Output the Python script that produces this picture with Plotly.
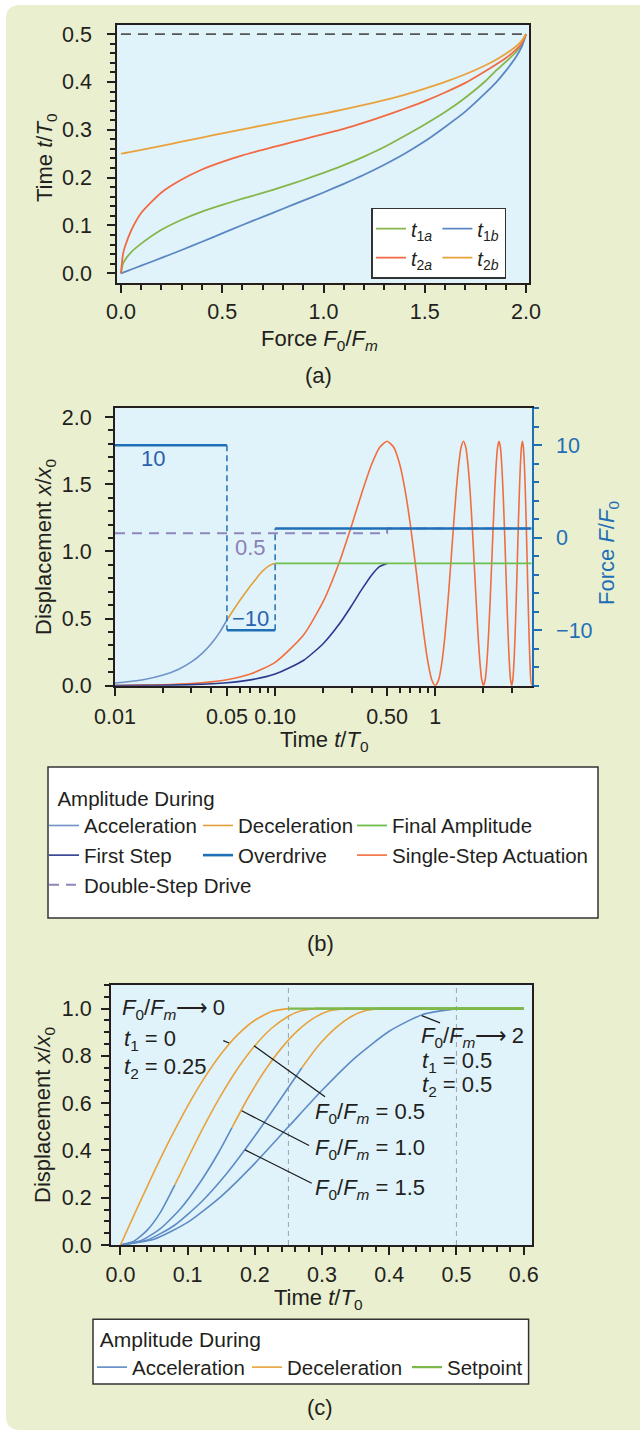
import plotly.graph_objects as go

# ======================= DATA =======================
# ---- panel (a): switching times vs force ratio ----
force_ratio = [0, 0.01, 0.02, 0.05, 0.1, 0.2, 0.3, 0.4, 0.5, 0.6, 0.7, 0.8, 0.9, 1.0,
               1.1, 1.2, 1.3, 1.4, 1.5, 1.6, 1.7, 1.8, 1.85, 1.9, 1.95, 1.98, 2.0]
t1a = [0, 0.02, 0.028, 0.044, 0.062, 0.091, 0.112, 0.129, 0.143, 0.156, 0.168, 0.181, 0.195, 0.21,
       0.226, 0.244, 0.264, 0.287, 0.311, 0.337, 0.367, 0.402, 0.423, 0.442, 0.462, 0.479, 0.5]
t1b = [0, 0.0016, 0.0032, 0.008, 0.016, 0.0322, 0.0487, 0.066, 0.0835, 0.101, 0.118, 0.135, 0.152, 0.169,
       0.187, 0.206, 0.227, 0.25, 0.276, 0.306, 0.338, 0.377, 0.398, 0.423, 0.452, 0.475, 0.5]
t2a = [0, 0.04, 0.056, 0.089, 0.126, 0.169, 0.196, 0.217, 0.233, 0.2465, 0.258, 0.269, 0.28, 0.291,
       0.302, 0.315, 0.329, 0.344, 0.36, 0.378, 0.398, 0.423, 0.436, 0.45, 0.467, 0.482, 0.5]
t2b = [0.25, 0.2508, 0.2515, 0.254, 0.258, 0.2665, 0.275, 0.2838, 0.2925, 0.301, 0.3093, 0.3175, 0.3258, 0.334,
       0.3425, 0.352, 0.362, 0.373, 0.386, 0.4, 0.416, 0.435, 0.446, 0.459, 0.474, 0.487, 0.5]
limit_force = [0.0, 2.0]
limit_time = [0.5, 0.5]

# ---- panel (b): displacement (left axis) and force (right axis) vs time ----
acc_t = [0.01, 0.015, 0.02, 0.025, 0.03, 0.035, 0.04, 0.045, 0.05]
acc_x = [0.0197, 0.0444, 0.0789, 0.1231, 0.1771, 0.2408, 0.3142, 0.397, 0.489]
dec_t = [0.05, 0.055, 0.06, 0.065, 0.07, 0.075, 0.08, 0.085, 0.09, 0.095, 0.1]
dec_x = [0.489, 0.565, 0.632, 0.69, 0.742, 0.787, 0.83, 0.862, 0.887, 0.903, 0.91]
final_t = [0.1, 4.0]
final_x = [0.91, 0.91]
first_t = [0.01, 0.02, 0.03, 0.05, 0.07, 0.1, 0.15, 0.2, 0.25, 0.3, 0.35, 0.4, 0.45, 0.5]
first_x = [0.0009, 0.0036, 0.0081, 0.0223, 0.0433, 0.0869, 0.1876, 0.3144, 0.455, 0.5956,
           0.7224, 0.8231, 0.8877, 0.91]
single_t = [0.01, 0.015, 0.02, 0.03, 0.04, 0.05, 0.07, 0.1, 0.15,
            0.2, 0.25, 0.3, 0.35, 0.4, 0.45, 0.5, 0.55, 0.6, 0.65, 0.7, 0.75, 0.8, 0.85, 0.9, 0.95, 1.0,
            1.05, 1.1, 1.15, 1.2, 1.25, 1.3, 1.35, 1.4, 1.45, 1.5, 1.55, 1.6, 1.65, 1.7, 1.75, 1.8, 1.85, 1.9, 1.95, 2.0,
            2.05, 2.1, 2.15, 2.2, 2.25, 2.3, 2.35, 2.4, 2.45, 2.5, 2.55, 2.6, 2.65, 2.7, 2.75, 2.8, 2.85, 2.9, 2.95, 3.0,
            3.05, 3.1, 3.15, 3.2, 3.25, 3.3, 3.35, 3.4, 3.45, 3.5, 3.55, 3.6, 3.65, 3.7, 3.75, 3.8, 3.85, 3.9, 3.95, 4.0]
single_x = [0.0018, 0.004, 0.0072, 0.0161, 0.0286, 0.0445, 0.0866, 0.1738, 0.3751,
            0.6288, 0.91, 1.1912, 1.4449, 1.6462, 1.7755, 1.82, 1.7755, 1.6462, 1.4449, 1.1912, 0.91, 0.6288, 0.3751, 0.1738, 0.0445, 0.0,
            0.0445, 0.1738, 0.3751, 0.6288, 0.91, 1.1912, 1.4449, 1.6462, 1.7755, 1.82, 1.7755, 1.6462, 1.4449, 1.1912, 0.91, 0.6288, 0.3751, 0.1738, 0.0445, 0.0,
            0.0445, 0.1738, 0.3751, 0.6288, 0.91, 1.1912, 1.4449, 1.6462, 1.7755, 1.82, 1.7755, 1.6462, 1.4449, 1.1912, 0.91, 0.6288, 0.3751, 0.1738, 0.0445, 0.0,
            0.0445, 0.1738, 0.3751, 0.6288, 0.91, 1.1912, 1.4449, 1.6462, 1.7755, 1.82, 1.7755, 1.6462, 1.4449, 1.1912, 0.91, 0.6288, 0.3751, 0.1738, 0.0445, 0.0]
over_t = [0.01, 0.05, 0.05, 0.1, 0.1, 4.0]
over_f = [10, 10, -10, -10, 1, 1]
double_t = [0.01, 0.5, 0.5, 4.0]
double_f = [0.5, 0.5, 1, 1]
b_tick_vals = [0.01, 0.05, 0.1, 0.5, 1]
b_tick_text = ["0.01", "0.05", "0.10", "0.50", "1"]
b_minor_vals = [0.02, 0.03, 0.04, 0.06, 0.07, 0.08, 0.09, 0.2, 0.3, 0.4, 0.6, 0.7, 0.8, 0.9, 2, 3]

# ---- panel (c): displacement vs time for several force ratios ----
c0_dec_t = [0, 0.025, 0.05, 0.075, 0.1, 0.125, 0.15, 0.175, 0.2, 0.225, 0.25]
c0_dec_x = [0, 0.156, 0.309, 0.454, 0.588, 0.707, 0.809, 0.891, 0.951, 0.988, 1.0]
c05_acc_t = [0, 0.02, 0.04, 0.06, 0.081]
c05_acc_x = [0, 0.0158, 0.0628, 0.140, 0.254]
c05_dec_t = [0.081, 0.1, 0.125, 0.15, 0.175, 0.2, 0.225, 0.25, 0.27, 0.29]
c05_dec_x = [0.254, 0.365, 0.506, 0.635, 0.749, 0.843, 0.917, 0.968, 0.992, 1.0]
c10_acc_t = [0, 0.03, 0.06, 0.09, 0.12, 0.145, 0.166]
c10_acc_x = [0, 0.0177, 0.0702, 0.1557, 0.271, 0.386, 0.497]
c10_dec_t = [0.166, 0.19, 0.215, 0.24, 0.265, 0.29, 0.31, 0.333]
c10_dec_x = [0.497, 0.623, 0.738, 0.834, 0.91, 0.964, 0.99, 1.0]
c15_acc_t = [0, 0.04, 0.08, 0.12, 0.16, 0.2, 0.235, 0.27]
c15_acc_x = [0, 0.021, 0.0825, 0.181, 0.309, 0.461, 0.604, 0.75]
c15_dec_t = [0.27, 0.295, 0.32, 0.345, 0.365, 0.385]
c15_dec_x = [0.75, 0.845, 0.918, 0.969, 0.992, 1.0]
c2_acc_t = [0, 0.05, 0.1, 0.15, 0.2, 0.25, 0.3, 0.35, 0.4, 0.45, 0.5]
c2_acc_x = [0, 0.0245, 0.0955, 0.2061, 0.3455, 0.5, 0.6545, 0.794, 0.9045, 0.9755, 1.0]
setpoint_start = [0.25, 0.29, 0.333, 0.385, 0.5]
setpoint_end = 0.6
setpoint_level = 1.0
ref_times = [0.25, 0.5]

# ======================= STYLE / LAYOUT HELPERS =======================
FONT = "Liberation Sans, Arial, Helvetica, sans-serif"
TXT = "#231f20"
C_BG = "#e9efcf"
C_PLOT = "#e0f3fb"
C_FORCE = "#1f6fb6"
W, H = 640, 1432
ML, MR = 40, 30
GW = W - ML - MR


def px_x(p):
    return (p - ML) / GW


def px_y(p):
    return 1 - p / H


def ln(color, width=1.6, dash=None, spline=True):
    d = dict(color=color, width=width)
    if spline:
        d.update(shape="spline", smoothing=0.6)
    if dash:
        d["dash"] = dash
    return d


def join(segs):
    xs, ys = [], []
    for sx, sy in segs:
        if xs:
            xs.append(None)
            ys.append(None)
        xs += list(sx)
        ys += list(sy)
    return xs, ys


fig = go.Figure()

# ======================= (a) =======================
for name, ys, col, grp in [
    ("<i>t</i><sub>1<i>a</i></sub>", t1a, "#86b64a", "g1"),
    ("<i>t</i><sub>1<i>b</i></sub>", t1b, "#5b87c3", "g2"),
    ("<i>t</i><sub>2<i>a</i></sub>", t2a, "#f26a43", "g1"),
    ("<i>t</i><sub>2<i>b</i></sub>", t2b, "#e9a23b", "g2"),
]:
    fig.add_trace(go.Scatter(x=force_ratio, y=ys, mode="lines", name=name, line=ln(col, 1.8),
                             legend="legend", legendgroup=grp, xaxis="x", yaxis="y"))
fig.add_trace(go.Scatter(x=limit_force, y=limit_time, mode="lines", showlegend=False,
                         line=dict(color="#555555", width=1.6, dash="10px,7px"), xaxis="x", yaxis="y"))

# ======================= (b) =======================
EW = 109
fig.add_trace(go.Scatter(x=single_t, y=single_x, mode="lines", name="Single-Step Actuation",
                         line=ln("#f26d3d", 1.6), legend="legend2", legendrank=6, legendgroup="c3",
                         xaxis="x2", yaxis="y2"))
fig.add_trace(go.Scatter(x=first_t, y=first_x, mode="lines", name="First Step",
                         line=ln("#2b3a8f", 1.6), legend="legend2", legendrank=4, legendgroup="c1",
                         legendwidth=EW, xaxis="x2", yaxis="y2"))
fig.add_trace(go.Scatter(x=final_t, y=final_x, mode="lines", name="Final Amplitude",
                         line=ln("#6fbf4c", 1.8, spline=False), legend="legend2", legendrank=3, legendgroup="c3",
                         xaxis="x2", yaxis="y2"))
fig.add_trace(go.Scatter(x=acc_t, y=acc_x, mode="lines", name="Acceleration",
                         line=ln("#6f93c8", 1.6), legend="legend2", legendrank=1, legendgroup="c1",
                         legendwidth=EW, xaxis="x2", yaxis="y2"))
fig.add_trace(go.Scatter(x=dec_t, y=dec_x, mode="lines", name="Deceleration",
                         line=ln("#e3a03a", 1.6), legend="legend2", legendrank=2, legendgroup="c2",
                         legendwidth=EW, xaxis="x2", yaxis="y2"))
fig.add_trace(go.Scatter(x=double_t, y=double_f, mode="lines", name="Double-Step Drive",
                         line=dict(color="#8f86ba", width=2, dash="10px,7px"), legend="legend2", legendrank=7,
                         legendgroup="c1", legendwidth=EW, xaxis="x2", yaxis="y3"))
ov_vx, ov_vy = join([(over_t[i:i + 2], over_f[i:i + 2]) for i in (1, 3)])
fig.add_trace(go.Scatter(x=ov_vx, y=ov_vy, mode="lines", showlegend=False,
                         line=dict(color=C_FORCE, width=1.5, dash="6px,4px"), xaxis="x2", yaxis="y3"))
ov_hx, ov_hy = join([(over_t[i:i + 2], over_f[i:i + 2]) for i in (0, 2, 4)])
fig.add_trace(go.Scatter(x=ov_hx, y=ov_hy, mode="lines", name="Overdrive",
                         line=dict(color=C_FORCE, width=2.6), legend="legend2", legendrank=5, legendgroup="c2",
                         legendwidth=EW, xaxis="x2", yaxis="y3"))

# ======================= (c) =======================
cax, cay = join([(c05_acc_t, c05_acc_x), (c10_acc_t, c10_acc_x), (c15_acc_t, c15_acc_x), (c2_acc_t, c2_acc_x)])
cdx, cdy = join([(c0_dec_t, c0_dec_x), (c05_dec_t, c05_dec_x), (c10_dec_t, c10_dec_x), (c15_dec_t, c15_dec_x)])
csx, csy = join([([s, setpoint_end], [setpoint_level, setpoint_level]) for s in setpoint_start])
fig.add_trace(go.Scatter(x=cax, y=cay, mode="lines", name="Acceleration", line=ln("#5d8bc6", 1.6),
                         legend="legend3", legendwidth=110, xaxis="x3", yaxis="y4"))
fig.add_trace(go.Scatter(x=cdx, y=cdy, mode="lines", name="Deceleration", line=ln("#e9a23b", 1.6),
                         legend="legend3", legendwidth=115, xaxis="x3", yaxis="y4"))
fig.add_trace(go.Scatter(x=csx, y=csy, mode="lines", name="Setpoint", line=ln("#7db84a", 2.2, spline=False),
                         legend="legend3", legendwidth=78, xaxis="x3", yaxis="y4"))

# ======================= AXES =======================
tickfont = dict(family=FONT, size=21.5, color=TXT)


def base(color=TXT):
    return dict(showgrid=False, zeroline=False, ticks="outside", ticklen=8, tickwidth=2, tickcolor=color,
                showline=True, linecolor=color, linewidth=2.2, tickfont=dict(tickfont, color=color))


def minor(dtick=None, tickvals=None, inside=False, color=TXT):
    m = dict(ticks="inside" if inside else "outside", ticklen=5, tickwidth=1.5, tickcolor=color, showgrid=False)
    if dtick is not None:
        m.update(dtick=dtick, tick0=0)
    if tickvals is not None:
        m.update(tickmode="array", tickvals=tickvals)
    return m


def mirror_axis(over, anchor, side, rng, **kw):
    d = dict(overlaying=over, anchor=anchor, side=side, range=rng, ticks="inside", ticklen=8, tickwidth=2,
             tickcolor=TXT, showticklabels=False, showline=False, showgrid=False, zeroline=False)
    d.update(kw)
    return d


a_xr = [-0.018, 2.016]
a_yr = [-0.0196, 0.519]
b_xr = [-2, 0.60206]
c_xr = [-0.014, 0.612]
c_yr = [0, 1.10]

layout_axes = dict(
    xaxis=dict(base(), domain=[px_x(117.3), px_x(529.3)], anchor="y", range=a_xr, tick0=0, dtick=0.5,
               tickformat=".1f", minor=minor(0.1), mirror=True, ticklabelstandoff=0),
    yaxis=dict(base(), domain=[px_y(282.7), px_y(25)], anchor="x", range=a_yr, tick0=0, dtick=0.1,
               tickformat=".1f", minor=minor(0.02), mirror=True, ticklabelstandoff=11),
    xaxis4=mirror_axis("x", "y", "top", a_xr, tick0=0, dtick=0.5, minor=minor(0.1, inside=True)),
    yaxis5=mirror_axis("y", "x", "right", a_yr, tick0=0, dtick=0.1, minor=minor(0.02, inside=True)),

    xaxis2=dict(base(), type="log", domain=[px_x(115), px_x(531.7)], anchor="y2", range=b_xr,
                tickmode="array", tickvals=b_tick_vals, ticktext=b_tick_text,
                minor=minor(tickvals=b_minor_vals), mirror=True, ticklabelstandoff=2),
    yaxis2=dict(base(), domain=[px_y(685.7), px_y(408.3)], anchor="x2", range=[0, 2.065], tick0=0, dtick=0.5,
                tickformat=".1f", minor=minor(0.1), mirror=False, ticklabelstandoff=9),
    yaxis3=dict(base(C_FORCE), overlaying="y2", anchor="x2", side="right", range=[-16, 14], tick0=0, dtick=10,
                minor=minor(2, color=C_FORCE), ticklabelstandoff=10),
    xaxis5=mirror_axis("x2", "y2", "top", b_xr, type="log", tickmode="array", tickvals=b_tick_vals,
                       minor=minor(tickvals=b_minor_vals, inside=True)),

    xaxis3=dict(base(), domain=[px_x(111), px_x(531.7)], anchor="y4", range=c_xr, tick0=0, dtick=0.1,
                tickformat=".1f", minor=minor(0.02), mirror=True, ticklabelstandoff=1),
    yaxis4=dict(base(), domain=[px_y(1245), px_y(985)], anchor="x3", range=c_yr, tick0=0, dtick=0.2,
                tickformat=".1f", minor=minor(0.05), mirror=True, ticklabelstandoff=5),
    xaxis6=mirror_axis("x3", "y4", "top", c_xr, tick0=0, dtick=0.1, minor=minor(0.02, inside=True)),
    yaxis6=mirror_axis("y4", "x3", "right", c_yr, tick0=0, dtick=0.2, minor=minor(0.05, inside=True)),
)

# ======================= SHAPES =======================
r = 14
x0, x1, yt, yb = px_x(6), px_x(648), px_y(5), px_y(1430)
rx, ry = r / GW, r / H
bg_path = (f"M{x0 + rx},{yt} L{x1},{yt} L{x1},{yb} L{x0 + rx},{yb} "
           f"Q{x0},{yb} {x0},{yb + ry} L{x0},{yt - ry} Q{x0},{yt} {x0 + rx},{yt} Z")
shapes = [dict(type="path", path=bg_path, xref="paper", yref="paper", fillcolor=C_BG,
               line=dict(width=0), layer="below")]
for xr_, yr_ in [("x", "y"), ("x2", "y2"), ("x3", "y4")]:
    shapes.append(dict(type="rect", xref=f"{xr_} domain", yref=f"{yr_} domain", x0=0, x1=1, y0=0, y1=1,
                       fillcolor=C_PLOT, line=dict(width=0), layer="below"))
# legend frames for (b) and (c)
for (bx0, by0, bx1, by1) in [(48, 767, 598, 918), (93, 1319.3, 528.6, 1384)]:
    shapes.append(dict(type="rect", xref="paper", yref="paper", x0=px_x(bx0), x1=px_x(bx1),
                       y0=px_y(by1), y1=px_y(by0), fillcolor="white",
                       line=dict(color="#333333", width=1.5), layer="below"))
for tr in ref_times:
    shapes.append(dict(type="line", xref="x3", yref="y4 domain", x0=tr, x1=tr, y0=0, y1=1,
                       line=dict(color="#9aa4a8", width=1, dash="5px,4px"), layer="below"))
# leader lines in (c)
for (lx0, ly0, lx1, ly1) in [(0.1988, 0.8432, 0.3045, 0.6271), (0.1805, 0.5678, 0.2807, 0.4208),
                             (0.1854, 0.4025, 0.2847, 0.2614), (0.1531, 0.8644, 0.1616, 0.8547),
                             (0.4484, 0.9703, 0.4756, 0.9394)]:
    shapes.append(dict(type="line", xref="x3", yref="y4", x0=lx0, y0=ly0, x1=lx1, y1=ly1,
                       line=dict(color="#1a1a1a", width=1.3), layer="above"))


# ======================= ANNOTATIONS =======================
def ann(text, x, y, xref="paper", yref="paper", size=22, color=TXT, xanchor="center", yanchor="middle", angle=0):
    return dict(text=text, x=x, y=y, xref=xref, yref=yref, showarrow=False, textangle=angle,
                font=dict(family=FONT, size=size, color=color), xanchor=xanchor, yanchor=yanchor)


FF = "<i>F</i><sub>0</sub>/<i>F</i><sub><i>m</i></sub>"
ARROW = "\u27f6\u2009"
annotations = [
    ann("Force " + FF, px_x(319.6), px_y(340)),
    ann("Time <i>t</i>/<i>T</i><sub>0</sub>", px_x(46), px_y(158), angle=-90),
    ann("(a)", px_x(318.6), px_y(375)),
    ann("Time <i>t</i>/<i>T</i><sub>0</sub>", px_x(323.5), px_y(741)),
    ann("Displacement <i>x</i>/<i>x</i><sub>0</sub>", px_x(45), px_y(547), angle=-90),
    ann("Force <i>F</i>/<i>F</i><sub>0</sub>", px_x(608), px_y(553), angle=-90, color=C_FORCE),
    ann("(b)", px_x(320.6), px_y(943)),
    ann("Time <i>t</i>/<i>T</i><sub>0</sub>", px_x(318), px_y(1299)),
    ann("Displacement <i>x</i>/<i>x</i><sub>0</sub>", px_x(44), px_y(1115), angle=-90),
    ann("(c)", px_x(320), px_y(1407)),
    # (b) step labels
    ann("10", -1.763, 1.695, xref="x2", yref="y2", color="#2a62ad"),
    ann("\u221210", -1.1537, 0.504, xref="x2", yref="y2", color="#2a62ad"),
    ann("0.5", -1.1537, 1.029, xref="x2", yref="y2", color="#8b80b5"),
    # (c) labels
    ann(FF + ARROW + "0", 0.0, 1.0, xref="x3", yref="y4", xanchor="left"),
    ann("<i>t</i><sub>1</sub> = 0", 0.002, 0.869, xref="x3", yref="y4", xanchor="left"),
    ann("<i>t</i><sub>2</sub> = 0.25", 0.002, 0.75, xref="x3", yref="y4", xanchor="left"),
    ann(FF + " = 0.5", 0.2866, 0.559, xref="x3", yref="y4", xanchor="left"),
    ann(FF + " = 1.0", 0.2866, 0.407, xref="x3", yref="y4", xanchor="left"),
    ann(FF + " = 1.5", 0.2866, 0.237, xref="x3", yref="y4", xanchor="left"),
    ann(FF + ARROW + "2", 0.444, 0.881, xref="x3", yref="y4", xanchor="left"),
    ann("<i>t</i><sub>1</sub> = 0.5", 0.446, 0.775, xref="x3", yref="y4", xanchor="left"),
    ann("<i>t</i><sub>2</sub> = 0.5", 0.446, 0.674, xref="x3", yref="y4", xanchor="left"),
]

# ======================= LEGENDS =======================
legends = dict(
    legend=dict(x=px_x(371), y=px_y(207.7), xanchor="left", yanchor="top", orientation="h",
                traceorder="grouped", bgcolor="white", bordercolor="#333333", borderwidth=1.5,
                font=dict(family=FONT, size=20, color=TXT)),
    legend2=dict(x=px_x(44), y=px_y(779), xanchor="left", yanchor="top", orientation="h",
                 traceorder="grouped", tracegroupgap=0,
                 bgcolor="rgba(0,0,0,0)", borderwidth=0,
                 title=dict(text="\u00a0\u00a0Amplitude During", side="top",
                            font=dict(family=FONT, size=20.5, color=TXT)),
                 font=dict(family=FONT, size=20.5, color=TXT)),
    legend3=dict(x=px_x(92), y=px_y(1320), xanchor="left", yanchor="top", orientation="h",
                 traceorder="normal", bgcolor="rgba(0,0,0,0)", borderwidth=0,
                 title=dict(text="\u00a0Amplitude During", side="top", font=dict(family=FONT, size=21, color=TXT)),
                 font=dict(family=FONT, size=20.5, color=TXT)),
)

fig.update_layout(
    width=W, height=H,
    margin=dict(l=ML, r=MR, t=0, b=0, autoexpand=False),
    paper_bgcolor="white", plot_bgcolor=C_PLOT,
    font=dict(family=FONT, color=TXT),
    shapes=shapes, annotations=annotations,
    **layout_axes, **legends,
)

fig.write_html("out.html")
